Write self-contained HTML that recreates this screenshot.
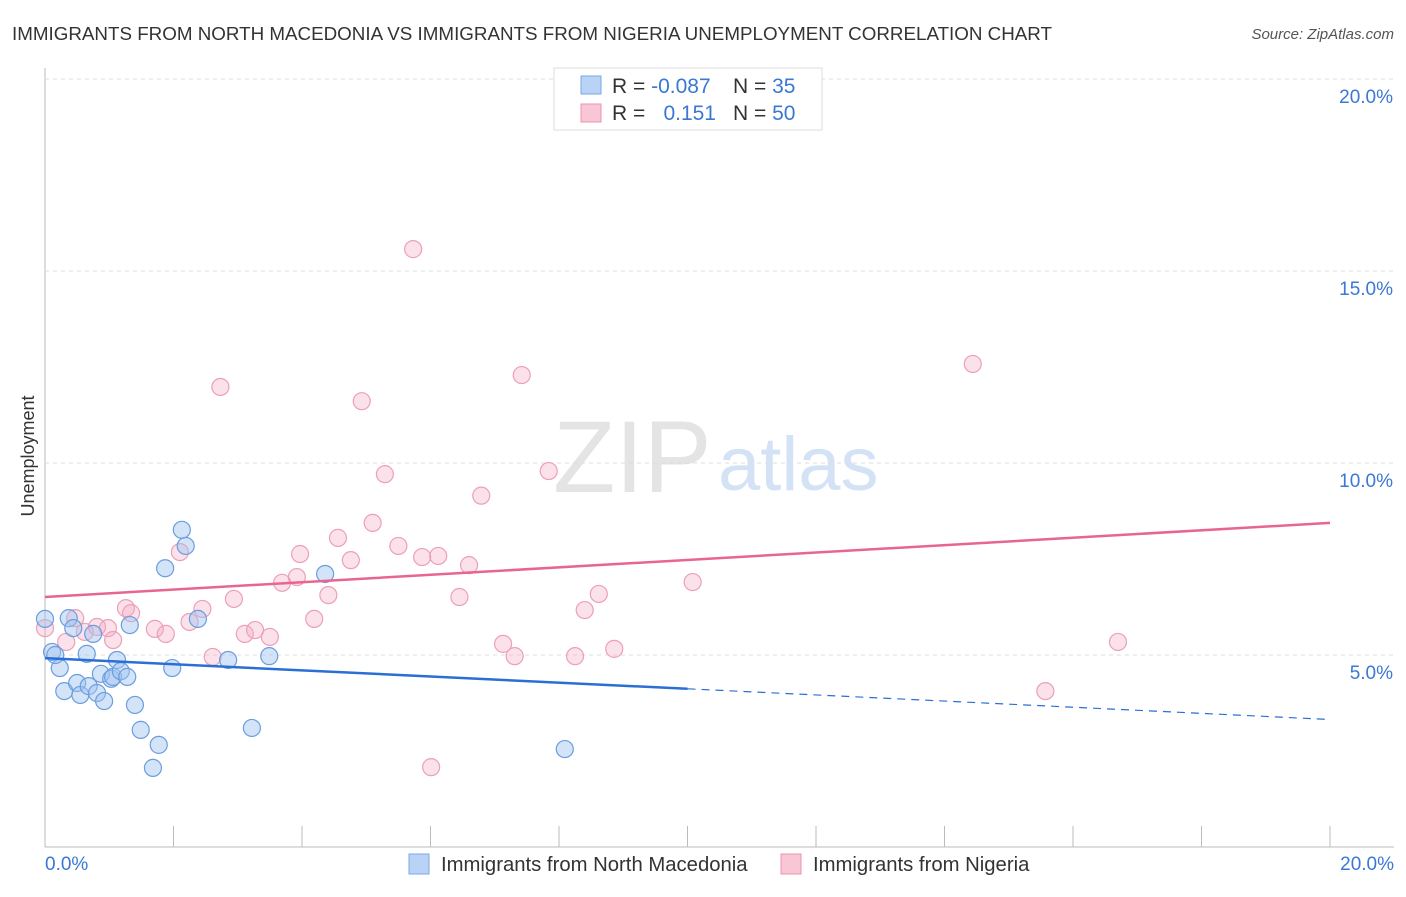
<!DOCTYPE html>
<html><head><meta charset="utf-8"><style>
body{margin:0;background:#fff;font-family:"Liberation Sans",sans-serif;}
svg text{font-family:"Liberation Sans",sans-serif;}
</style></head><body>
<svg id="chart" width="1406" height="892">
<text x="12" y="40" font-size="18.8" fill="#333">IMMIGRANTS FROM NORTH MACEDONIA VS IMMIGRANTS FROM NIGERIA UNEMPLOYMENT CORRELATION CHART</text>
<text x="1394" y="39" font-size="15" fill="#555" font-style="italic" text-anchor="end">Source: ZipAtlas.com</text>
<text transform="translate(34,456) rotate(-90)" font-size="18" fill="#333" text-anchor="middle">Unemployment</text>
<text x="553" y="492" font-size="102" fill="#e4e4e4" font-family="Liberation Serif">ZIP</text>
<text x="718" y="490" font-size="76" fill="#d4e2f5">atlas</text>
<g id="grid"></g><g id="pts"></g><g id="lines"></g>
<g>
<rect x="554" y="68" width="268" height="62" fill="#fff" stroke="#ddd"/>
<rect x="581" y="76" width="20" height="18" fill="#b8d3f5" stroke="#7aa7e6"/>
<rect x="581" y="104" width="20" height="18" fill="#f8c6d5" stroke="#eb94ae"/>
<text x="612" y="93" font-size="21" fill="#333">R = <tspan fill="#3a78d4">-0.087</tspan></text>
<text x="733" y="93" font-size="21" fill="#333">N = <tspan fill="#3a78d4">35</tspan></text>
<text x="612" y="120" font-size="21" fill="#333">R = </text>
<text x="716" y="120" font-size="21" fill="#3a78d4" text-anchor="end">0.151</text>
<text x="733" y="120" font-size="21" fill="#333">N = <tspan fill="#3a78d4">50</tspan></text>
</g>
<g>
<rect x="409" y="854" width="20" height="20" fill="#b8d3f5" stroke="#7aa7e6"/>
<text x="441" y="871" font-size="20.3" fill="#333">Immigrants from North Macedonia</text>
<rect x="781" y="854" width="20" height="20" fill="#f8c6d5" stroke="#eb94ae"/>
<text x="813" y="871" font-size="20.3" fill="#333">Immigrants from Nigeria</text>
</g>
</svg>
<script>
const yTicks=[5,10,15,20];
const yTickLabels=["5.0%","10.0%","15.0%","20.0%"];
const xTickLabels=["0.0%","20.0%"];
const blueX=[0,0.11,0.23,0.37,0.44,0.3,0.5,0.55,0.65,0.68,0.75,0.81,0.92,0.87,1.03,1.12,1.06,1.18,1.28,1.32,1.4,1.49,1.68,1.77,1.87,1.98,2.13,2.19,2.38,2.85,3.22,3.49,4.36,8.09,0.16];
const blueY=[5.94,5.08,4.66,5.96,5.7,4.06,4.27,3.96,5.03,4.19,5.55,4.01,3.8,4.51,4.38,4.87,4.43,4.58,4.43,5.78,3.7,3.05,2.06,2.66,7.26,4.66,8.26,7.84,5.94,4.87,3.1,4.97,7.11,2.55,5.0];
const pinkX=[0,0.33,0.47,0.62,0.81,0.98,1.06,1.26,1.34,1.71,1.88,2.1,2.25,2.45,2.61,2.73,2.94,3.11,3.27,3.5,3.69,3.92,3.97,4.19,4.41,4.56,4.76,4.93,5.1,5.29,5.5,5.73,5.87,6.01,6.12,6.45,6.6,6.79,7.13,7.31,7.42,7.84,8.25,8.4,8.62,8.86,10.08,14.44,15.57,16.7];
const pinkY=[5.7,5.34,5.96,5.6,5.73,5.7,5.39,6.22,6.09,5.68,5.55,7.68,5.86,6.2,4.95,11.98,6.46,5.55,5.65,5.47,6.88,7.03,7.63,5.94,6.56,8.05,7.47,11.61,8.44,9.71,7.84,15.57,7.55,2.08,7.58,6.51,7.34,9.15,5.29,4.97,12.29,9.79,4.97,6.17,6.59,5.16,6.9,12.58,4.06,5.34];
const pinkTrend=[6.51,8.44];
const blueTrendStart=4.92, blueTrendEnd=3.32, blueSolidEndX=10;
const X=v=>45+v/20*1285, Y=v=>847-v*38.4;
const NS="http://www.w3.org/2000/svg";
function mk(tag,attrs,parent){const e=document.createElementNS(NS,tag);for(const k in attrs)e.setAttribute(k,attrs[k]);parent.appendChild(e);return e;}
const svg=document.getElementById('chart'),grid=document.getElementById('grid'),pts=document.getElementById('pts'),lines=document.getElementById('lines');
let ax=mk('line',{x1:45,y1:68,x2:45,y2:847,stroke:'#bbb'},grid);


let bx=mk('line',{x1:45,y1:847,x2:1394,y2:847,stroke:'#bbb'},grid);


yTicks.forEach((t,i)=>{
 let g=mk('line',{x1:45,x2:1394,y1:Y(t),y2:Y(t),stroke:'#ddd','stroke-dasharray':'4,4'},grid);
 
 
 let tx=mk('text',{x:1393,y:Y(t)+24,'font-size':19,fill:'#3a78d4','text-anchor':'end'},grid);
 tx.textContent=yTickLabels[i];
 
 
});
for(let i=0;i<=10;i++){let l=mk('line',{x1:X(i*2),x2:X(i*2),y1:826,y2:847,stroke:'#bbb'},grid);
 
 }
[[0,'start',45],[20,'end',1394]].forEach((a,i)=>{let t=mk('text',{x:a[2],y:870,'font-size':19,fill:'#3a78d4','text-anchor':a[1]},grid);t.textContent=xTickLabels[i];
 
 });
pinkX.forEach((x,i)=>{let c=mk('circle',{cx:X(x),cy:Y(pinkY[i]),r:8.5,fill:'rgba(244,170,194,0.35)',stroke:'#eca0b8','stroke-width':1.2},pts);
 
 });
blueX.forEach((x,i)=>{let c=mk('circle',{cx:X(x),cy:Y(blueY[i]),r:8.5,fill:'rgba(160,195,240,0.45)',stroke:'#6b9ddf','stroke-width':1.2},pts);
 
 });
let pl=mk('line',{x1:X(0),y1:Y(pinkTrend[0]),x2:X(20),y2:Y(pinkTrend[1]),stroke:'#e8658f','stroke-width':2.5},lines);


const bMid=blueTrendStart+(blueTrendEnd-blueTrendStart)*blueSolidEndX/20;
let bl=mk('line',{x1:X(0),y1:Y(blueTrendStart),x2:X(blueSolidEndX),y2:Y(bMid),stroke:'#2a6fd6','stroke-width':2.5},lines);


let bd=mk('line',{x1:X(blueSolidEndX),y1:Y(bMid),x2:X(20),y2:Y(blueTrendEnd),stroke:'#2a6fd6','stroke-width':1.2,'stroke-dasharray':'8,6'},lines);


</script>
</body></html>
